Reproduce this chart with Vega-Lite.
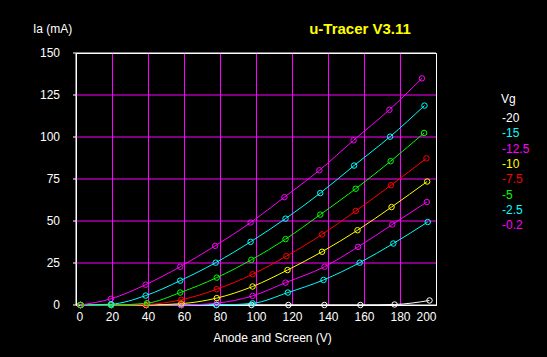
{
  "$schema": "https://vega.github.io/schema/vega-lite/v6.json",
  "width": 360,
  "height": 252,
  "autosize": {"type": "none"},
  "padding": {"left": 76, "top": 53, "right": 111, "bottom": 52},
  "background": "black",
  "title": {
    "text": "u-Tracer V3.11",
    "color": "#FFFF00",
    "font": "Liberation Sans",
    "fontSize": 15,
    "fontWeight": "bold",
    "anchor": "middle",
    "dx": 104,
    "baseline": "alphabetic",
    "offset": -26
  },
  "config": {
    "view": {"stroke": "white", "strokeWidth": 1},
    "axis": {
      "labelColor": "white",
      "labelFont": "Liberation Sans",
      "labelFontSize": 12,
      "titleColor": "white",
      "titleFont": "Liberation Sans",
      "titleFontSize": 12,
      "titleFontWeight": "normal",
      "domainColor": "white",
      "tickColor": "white",
      "gridOpacity": 1,
      "gridWidth": 1
    }
  },
  "data": {
    "values": [
      {"vg": "-20", "v": 2.5, "ia": 0}, {"vg": "-20", "v": 19.5, "ia": 0}, {"vg": "-20", "v": 39, "ia": 0}, {"vg": "-20", "v": 58.5, "ia": 0}, {"vg": "-20", "v": 78, "ia": 0}, {"vg": "-20", "v": 97.5, "ia": 0}, {"vg": "-20", "v": 118, "ia": 0}, {"vg": "-20", "v": 138, "ia": 0}, {"vg": "-20", "v": 158, "ia": 0}, {"vg": "-20", "v": 177, "ia": 0.3}, {"vg": "-20", "v": 196.4, "ia": 2.7},
      {"vg": "-15", "v": 2.5, "ia": 0}, {"vg": "-15", "v": 19.5, "ia": 0}, {"vg": "-15", "v": 39, "ia": 0}, {"vg": "-15", "v": 58.5, "ia": 0}, {"vg": "-15", "v": 78, "ia": 0}, {"vg": "-15", "v": 98.1, "ia": 1.0}, {"vg": "-15", "v": 117.7, "ia": 7.4}, {"vg": "-15", "v": 137.5, "ia": 14.9}, {"vg": "-15", "v": 157.6, "ia": 25.2}, {"vg": "-15", "v": 176.3, "ia": 36.6}, {"vg": "-15", "v": 195.4, "ia": 49.4},
      {"vg": "-12.5", "v": 2.5, "ia": 0}, {"vg": "-12.5", "v": 19.5, "ia": 0}, {"vg": "-12.5", "v": 39, "ia": 0}, {"vg": "-12.5", "v": 58.5, "ia": 0}, {"vg": "-12.5", "v": 78.2, "ia": 1.1}, {"vg": "-12.5", "v": 98.1, "ia": 5.4}, {"vg": "-12.5", "v": 116.4, "ia": 13.3}, {"vg": "-12.5", "v": 138.1, "ia": 22.8}, {"vg": "-12.5", "v": 156.7, "ia": 34.6}, {"vg": "-12.5", "v": 175.7, "ia": 47.9}, {"vg": "-12.5", "v": 194.9, "ia": 61.3},
      {"vg": "-10", "v": 2.5, "ia": 0}, {"vg": "-10", "v": 19.5, "ia": 0}, {"vg": "-10", "v": 39, "ia": 0}, {"vg": "-10", "v": 58.5, "ia": 0.8}, {"vg": "-10", "v": 78.2, "ia": 4.1}, {"vg": "-10", "v": 98.1, "ia": 11.0}, {"vg": "-10", "v": 117.5, "ia": 20.8}, {"vg": "-10", "v": 136.7, "ia": 31.7}, {"vg": "-10", "v": 156.4, "ia": 44.5}, {"vg": "-10", "v": 175.3, "ia": 58.3}, {"vg": "-10", "v": 195.1, "ia": 73.5},
      {"vg": "-7.5", "v": 2.5, "ia": 0}, {"vg": "-7.5", "v": 19.5, "ia": 0}, {"vg": "-7.5", "v": 39, "ia": 0.3}, {"vg": "-7.5", "v": 58.5, "ia": 3.1}, {"vg": "-7.5", "v": 78.2, "ia": 9.4}, {"vg": "-7.5", "v": 98.1, "ia": 18.3}, {"vg": "-7.5", "v": 116.9, "ia": 29.1}, {"vg": "-7.5", "v": 136.7, "ia": 42.0}, {"vg": "-7.5", "v": 155.4, "ia": 56.0}, {"vg": "-7.5", "v": 175.0, "ia": 71.3}, {"vg": "-7.5", "v": 194.7, "ia": 87.3},
      {"vg": "-5", "v": 2.5, "ia": 0}, {"vg": "-5", "v": 19.5, "ia": 0}, {"vg": "-5", "v": 39.5, "ia": 1.1}, {"vg": "-5", "v": 57.9, "ia": 7.4}, {"vg": "-5", "v": 78.2, "ia": 16.3}, {"vg": "-5", "v": 97.4, "ia": 26.9}, {"vg": "-5", "v": 116.4, "ia": 39.2}, {"vg": "-5", "v": 135.7, "ia": 53.8}, {"vg": "-5", "v": 155.4, "ia": 69.2}, {"vg": "-5", "v": 174.8, "ia": 85.6}, {"vg": "-5", "v": 193.4, "ia": 102.4},
      {"vg": "-2.5", "v": 2.4, "ia": 0}, {"vg": "-2.5", "v": 19.5, "ia": 0.5}, {"vg": "-2.5", "v": 38.7, "ia": 5.6}, {"vg": "-2.5", "v": 57.9, "ia": 14.5}, {"vg": "-2.5", "v": 77.6, "ia": 25.2}, {"vg": "-2.5", "v": 97.0, "ia": 37.6}, {"vg": "-2.5", "v": 116.4, "ia": 51.4}, {"vg": "-2.5", "v": 135.7, "ia": 66.6}, {"vg": "-2.5", "v": 154.5, "ia": 83.0}, {"vg": "-2.5", "v": 174.5, "ia": 100.2}, {"vg": "-2.5", "v": 193.6, "ia": 118.7},
      {"vg": "-0.2", "v": 2.4, "ia": 0}, {"vg": "-0.2", "v": 19.4, "ia": 3.7}, {"vg": "-0.2", "v": 38.7, "ia": 12.1}, {"vg": "-0.2", "v": 57.9, "ia": 22.8}, {"vg": "-0.2", "v": 77.3, "ia": 35.2}, {"vg": "-0.2", "v": 97.0, "ia": 49.1}, {"vg": "-0.2", "v": 115.8, "ia": 64.2}, {"vg": "-0.2", "v": 135.2, "ia": 80.2}, {"vg": "-0.2", "v": 154.2, "ia": 98.0}, {"vg": "-0.2", "v": 174.1, "ia": 116.2}, {"vg": "-0.2", "v": 192.2, "ia": 134.9}
    ]
  },
  "encoding": {
    "x": {
      "field": "v",
      "type": "quantitative",
      "scale": {"domain": [0, 200], "nice": false, "zero": false},
      "axis": {
        "title": "Anode and Screen (V)",
        "values": [0, 20, 40, 60, 80, 100, 120, 140, 160, 180, 200],
        "grid": true,
        "gridColor": {"condition": {"test": "datum.value == 0 || datum.value == 200", "value": "white"}, "value": "#FF00FF"},
        "ticks": false,
        "labelPadding": 6,
        "labelDx": 3,
        "titleX": 196,
        "titleY": 36,
        "titleAlign": "center",
        "titleBaseline": "alphabetic"
      }
    },
    "y": {
      "field": "ia",
      "type": "quantitative",
      "scale": {"domain": [0, 150], "nice": false},
      "axis": {
        "title": "Ia (mA)",
        "values": [0, 25, 50, 75, 100, 125, 150],
        "grid": true,
        "translate": 0,
        "gridColor": {"condition": {"test": "datum.value == 0 || datum.value == 150", "value": "white"}, "value": "#FF00FF"},
        "tickSize": 3,
        "labelPadding": 13,
        "titleAngle": 0,
        "titleX": -43,
        "titleY": -20,
        "titleAlign": "left",
        "titleBaseline": "alphabetic"
      }
    },
    "color": {
      "field": "vg",
      "type": "nominal",
      "scale": {
        "domain": ["-20", "-15", "-12.5", "-10", "-7.5", "-5", "-2.5", "-0.2"],
        "range": ["#FFFFFF", "#00FFFF", "#FF00FF", "#FFFF00", "#FF0000", "#00FF00", "#00FFFF", "#FF00FF"]
      },
      "legend": {
        "orient": "none",
        "legendX": 425,
        "legendY": 41,
        "title": "Vg",
        "titleColor": "white",
        "titleFont": "Liberation Sans",
        "titleFontSize": 12,
        "titleFontWeight": "normal",
        "titlePadding": 6,
        "labelFont": "Liberation Sans",
        "labelFontSize": 12,
        "symbolSize": 0,
        "symbolOpacity": 0,
        "symbolStrokeWidth": 0,
        "labelOffset": -11,
        "rowPadding": 3.3,
        "encode": {"labels": {"update": {"fill": {"scale": "color", "field": "value"}}}}
      }
    },
    "order": {"field": "v", "type": "quantitative"}
  },
  "layer": [
    {"mark": {"type": "line", "strokeWidth": 1, "interpolate": "monotone"}},
    {"mark": {"type": "point", "shape": "circle", "filled": false, "size": 30, "strokeWidth": 1, "opacity": 1}}
  ]
}
